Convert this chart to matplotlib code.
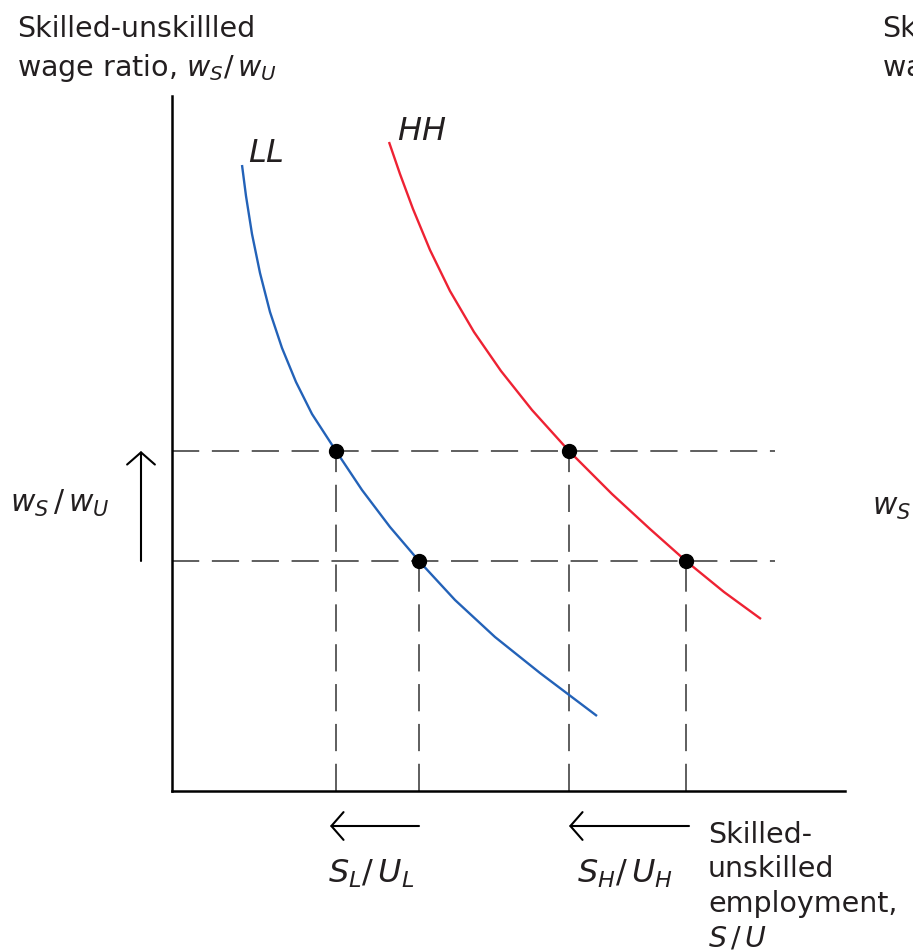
import numpy as np
import matplotlib
matplotlib.use('Agg')
import matplotlib.pyplot as plt

# Relative demand curves (x = S/U, y = wS/wU, arbitrary units)
ll_x = [0.70, 0.74, 0.80, 0.88, 0.98, 1.10, 1.24, 1.40, 1.64, 1.90, 2.18, 2.47,
        2.83, 3.23, 3.68, 4.25]
ll_y = [6.26, 5.95, 5.57, 5.18, 4.79, 4.43, 4.09, 3.77, 3.40, 3.01, 2.64, 2.30,
        1.91, 1.54, 1.18, 0.75]
hh_x = [2.17, 2.28, 2.41, 2.58, 2.78, 3.02, 3.29, 3.60, 3.97, 4.40, 4.78, 5.14,
        5.52, 5.89]
hh_y = [6.49, 6.17, 5.82, 5.41, 5.00, 4.59, 4.20, 3.81, 3.40, 2.97, 2.62, 2.30,
        1.99, 1.72]

# Equilibrium wage ratios (high, low) and employment ratios on each curve
wage_levels = [3.40, 2.30]
ll_emp = [1.64, 2.47]
hh_emp = [3.97, 5.14]

x_max = 6.73
y_max = 6.95
dash_end = 6.03

fig = plt.figure(figsize=(9.13, 9.53), dpi=100)
ax = fig.add_axes([172/913, (953-792)/953, (845-172)/913, (792-97)/953])
ax.set_xlim(0, x_max)
ax.set_ylim(0, y_max)
ax.set_xticks([])
ax.set_yticks([])
ax.spines['top'].set_visible(False)
ax.spines['right'].set_visible(False)
ax.spines['left'].set_linewidth(1.8)
ax.spines['bottom'].set_linewidth(1.8)
ax.patch.set_alpha(0)

dash = (0, (14, 6.5))
gray = '#5e5e5e'
ax.hlines(wage_levels, 0, dash_end, colors=gray, linestyles=dash, lw=1.4, zorder=1)
ax.vlines(ll_emp, 0, wage_levels, colors=gray, linestyles=dash, lw=1.4, zorder=1)
ax.vlines(hh_emp, 0, wage_levels, colors=gray, linestyles=dash, lw=1.4, zorder=1)

ax.plot(ll_x, ll_y, color='#2362b8', lw=1.7, solid_capstyle='butt',
        solid_joinstyle='round', zorder=2)
ax.plot(hh_x, hh_y, color='#ee2233', lw=1.7, solid_capstyle='butt',
        solid_joinstyle='round', zorder=2)

ax.plot(ll_emp, wage_levels, 'o', color='black', ms=10, zorder=3, clip_on=False)
ax.plot(hh_emp, wage_levels, 'o', color='black', ms=10, zorder=3, clip_on=False)

# arrows showing the shifts
arrow = dict(arrowstyle='->, head_length=0.35, head_width=0.4', lw=1.5,
             color='black', mutation_scale=25, shrinkA=0, shrinkB=0)
ax.annotate('', xy=(-0.31, wage_levels[0]), xytext=(-0.31, wage_levels[1]),
            arrowprops=arrow, annotation_clip=False)
ax.annotate('', xy=(ll_emp[0] - 0.06, -0.35), xytext=(ll_emp[1], -0.35),
            arrowprops=arrow, annotation_clip=False)
ax.annotate('', xy=(hh_emp[0], -0.35), xytext=(hh_emp[1] + 0.03, -0.35),
            arrowprops=arrow, annotation_clip=False)

fs = 20.5
ink = '#231f20'
txt = dict(fontsize=fs, color=ink, ha='left', va='baseline', family='DejaVu Sans')

# axis titles (the second panel's titles are cut by the right edge)
ax.text(-1.55, 7.55, 'Skilled-unskillled', **txt)
ax.text(-1.55, 7.16, r'wage ratio, $w_S/\,w_U$', **txt)
ax.text(7.10, 7.55, 'Skilled-unskillled', **txt)
ax.text(7.10, 7.16, r'wage ratio, $w_S/\,w_U$', **txt)

ax.text(5.36, -0.51, 'Skilled-', **txt)
ax.text(5.36, -0.85, 'unskilled', **txt)
ax.text(5.36, -1.20, 'employment,', **txt)
ax.text(5.36, -1.55, r'$S\,/\,U$', **txt)

ax.text(-1.62, 2.80, r'$w_S\,/\,w_U$', fontsize=21.5, color=ink, ha='left', va='baseline')
ax.text(7.00, 2.77, r'$w_S\,/\,w_U$', fontsize=21.5, color=ink, ha='left', va='baseline')

ax.text(0.76, 6.30, r'$LL$', fontsize=23, color=ink, ha='left', va='baseline')
ax.text(2.25, 6.52, r'$HH$', fontsize=23, color=ink, ha='left', va='baseline')

ax.text(1.56, -0.91, r'$S_L/\,U_L$', fontsize=23, color=ink, ha='left', va='baseline')
ax.text(4.05, -0.91, r'$S_H/\,U_H$', fontsize=23, color=ink, ha='left', va='baseline')

fig.savefig('out.png', dpi=100)
